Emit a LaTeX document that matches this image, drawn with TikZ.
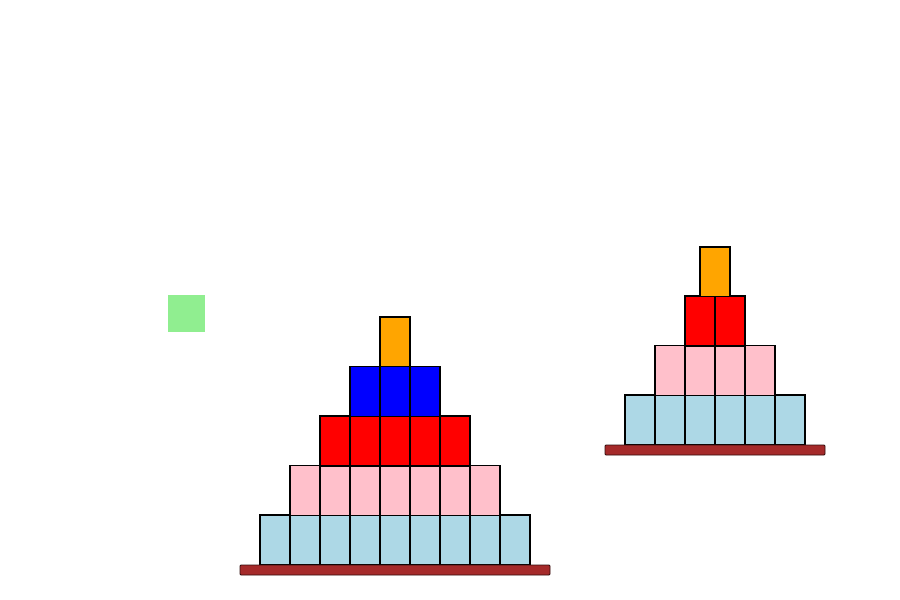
\documentclass[tikz,border=0pt]{standalone}
\definecolor{lb}{HTML}{ADD8E6}
\definecolor{pk}{HTML}{FFC0CB}
\definecolor{rd}{HTML}{FF0000}
\definecolor{bl}{HTML}{0000FF}
\definecolor{og}{HTML}{FFA500}
\definecolor{br}{HTML}{A52A2A}
\definecolor{lg}{HTML}{90EE90}
\tikzset{
  block/.style={draw=black, line width=1.2pt, minimum width=30pt, minimum height=50pt, inner sep=0pt, outer sep=0pt, anchor=south west},
  basebar/.style={draw=black!70!br, line width=0.9pt, fill=br, inner sep=0pt, outer sep=0pt, anchor=north west, minimum height=10pt, rounded corners=1pt},
}
\begin{document}
\begin{tikzpicture}[x=1pt,y=-1pt]
\useasboundingbox (0,0) rectangle (900,600);
% green square
\node[fill=lg, minimum width=37pt, minimum height=37pt, inner sep=0pt, anchor=north west] (g) at (167.5,294.5) {};
% left pyramid
\foreach \i in {0,...,8} \node[block, fill=lb] (La\i) at (260+30*\i,565) {};
\foreach \i in {0,...,6} \node[block, fill=pk] (Lb\i) at (290+30*\i,515.5) {};
\foreach \i in {0,...,4} \node[block, fill=rd] (Lc\i) at (320+30*\i,466) {};
\foreach \i in {0,...,2} \node[block, fill=bl] (Ld\i) at (350+30*\i,416.5) {};
\node[block, fill=og, minimum height=49.5pt] (Le) at (380,366.5) {};
\node[basebar, minimum width=310pt] (Lbase) at (240,565) {};
% right pyramid
\foreach \i in {0,...,5} \node[block, fill=lb] (Ra\i) at (625+30*\i,445) {};
\foreach \i in {0,...,3} \node[block, fill=pk] (Rb\i) at (655+30*\i,395.5) {};
\foreach \i in {0,...,1} \node[block, fill=rd] (Rc\i) at (685+30*\i,346) {};
\node[block, fill=og, minimum height=49.5pt] (Rd) at (700,296.5) {};
\node[basebar, minimum width=220pt] (Rbase) at (605,445) {};
\end{tikzpicture}
\end{document}
